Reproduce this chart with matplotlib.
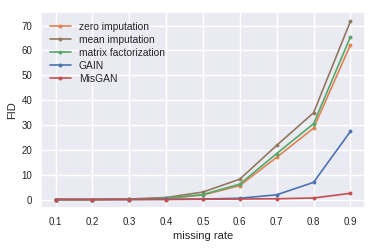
import matplotlib
matplotlib.use("Agg")
import matplotlib.pyplot as plt
import seaborn as sns

sns.set_theme(style="darkgrid")
plt.rcParams['font.family'] = ['Liberation Sans', 'DejaVu Sans']

missing_rate = [0.1, 0.2, 0.3, 0.4, 0.5, 0.6, 0.7, 0.8, 0.9]
zero_imp = [0.0, 0.0, 0.1, 0.4, 1.8, 5.6, 17.0, 28.7, 62.2]
mean_imp = [0.0, 0.0, 0.2, 0.8, 3.0, 8.2, 21.8, 34.9, 71.7]
matrix_fact = [0.0, 0.0, 0.1, 0.5, 2.0, 6.2, 18.5, 30.5, 65.4]
gain = [0.0, 0.0, 0.0, 0.1, 0.2, 0.5, 1.9, 6.9, 27.4]
misgan = [0.0, 0.0, 0.0, 0.0, 0.1, 0.2, 0.3, 0.6, 2.5]

pal = sns.color_palette("deep")
series = [
    ("zero imputation", zero_imp, pal[1]),
    ("mean imputation", mean_imp, pal[5]),
    ("matrix factorization", matrix_fact, pal[2]),
    ("GAIN", gain, pal[0]),
    ("MisGAN", misgan, pal[3]),
]

fig, ax = plt.subplots(figsize=(3.78, 2.49), dpi=100)
for label, vals, c in series:
    ax.plot(missing_rate, vals, marker='o', markersize=2.3, markeredgewidth=0.5,
            linewidth=1.2, color=c, label=label)

ax.set_xticks(missing_rate)
ax.set_xticklabels([str(m) for m in missing_rate])
ax.set_xlabel("missing rate", fontsize=8, labelpad=3)
ax.set_ylabel("FID", fontsize=8, labelpad=3)
ax.tick_params(labelsize=7, length=0, pad=6)
ax.legend(loc="upper left", fontsize=7.4, frameon=False, labelspacing=0.3)
fig.subplots_adjust(left=0.108, right=0.966, top=0.95, bottom=0.163)
fig.savefig("out.png", dpi=100)
